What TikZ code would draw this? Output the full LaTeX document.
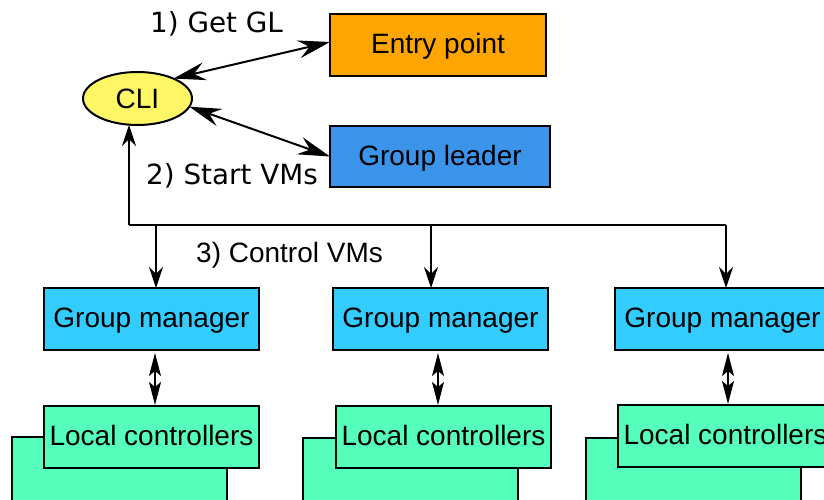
\documentclass[tikz,border=0pt]{standalone}
\usepackage{fontspec}
\setmainfont{Liberation Sans}
\newfontfamily\labelfont{DejaVu Sans}
\usetikzlibrary{arrows.meta,shapes.geometric}
\definecolor{epcol}{HTML}{FFA500}
\definecolor{glcol}{HTML}{3B94EA}
\definecolor{clicol}{HTML}{FFF666}
\definecolor{gmcol}{HTML}{33CCFF}
\definecolor{lccol}{HTML}{55FFBB}
\begin{document}
\begin{tikzpicture}[x=1pt,y=-1pt,
  box/.style={draw=black, line width=2pt, inner sep=0pt, outer sep=0pt,
    anchor=north west, text height=20pt, text depth=2.4pt,
    font=\fontsize{28}{30}\selectfont},
  gmbox/.style={box, fill=gmcol, minimum width=215pt, minimum height=62pt},
  lcbox/.style={box, fill=lccol, minimum width=215pt, minimum height=62pt},
  lcback/.style={box, fill=lccol, minimum width=215pt, minimum height=75pt},
  biglink/.style={line width=2pt,
    {Stealth[length=32pt,width=18pt,inset=11pt]}-{Stealth[length=32pt,width=18pt,inset=11pt]}},
  ctl/.style={line width=1.3pt},
  ctlarrow/.style={ctl, -{Stealth[length=21pt,width=14pt,inset=7pt]}},
  gmlink/.style={line width=1.3pt,
    {Stealth[length=23pt,width=12pt,inset=5pt]}-{Stealth[length=23pt,width=12pt,inset=5pt]}},
  steplabel/.style={anchor=base west, inner sep=0pt, font=\labelfont\fontsize{27.8}{30}\selectfont},
  ctllabel/.style={anchor=base west, inner sep=0pt, font=\fontsize{28}{30}\selectfont}
]
\useasboundingbox (0,0) rectangle (824,500);
\clip (0,0) rectangle (824,500);

% top row: entry point, group leader and the client
\node[box, fill=epcol, minimum width=216pt, minimum height=62pt] (ep) at (330,14) {Entry point};
\node[box, fill=glcol, minimum width=220pt, minimum height=61pt] (gl) at (330,126) {Group leader};
\node[ellipse, draw=black, line width=2pt, fill=clicol, inner sep=0pt, outer sep=0pt,
  minimum width=109pt, minimum height=53pt, font=\fontsize{28}{30}\selectfont] (cli) at (137.5,98.5) {CLI};

\draw[biglink] (cli.29) -- ([yshift=3pt]ep.west);
\draw[biglink] (cli.-9) -- (gl.west);

\node[steplabel] (l1) at (150,33) {1) Get GL};
\node[steplabel] (l2) at (146,184) {2) Start VMs};
\node[ctllabel] (l3) at (196,262) {3) Control VMs};

% group managers
\node[gmbox] (gm1) at (44,288) {Group manager};
\node[gmbox] (gm2) at (333,288) {Group manager};
\node[gmbox] (gm3) at (615,288) {Group manager};

% stacked local controllers
\node[lcback] (lb1) at (12,437) {};
\node[lcbox] (lc1) at (44,406) {Local controllers};
\node[lcback] (lb2) at (303,438) {};
\node[lcbox] (lc2) at (336,406) {Local controllers};
\node[lcback] (lb3) at (586,438) {};
\node[lcbox] (lc3) at (618,405) {Local controllers};

% control bus from the client to every group manager
\coordinate (bus) at (129,225);
\coordinate (busend) at (726,225);
\coordinate (d1) at (156,225);
\coordinate (d2) at (431,225);
\draw[ctlarrow] (bus) -- (bus |- cli.south);
\draw[ctl] (bus) -- (busend);
\draw[ctlarrow] (d1) -- (d1 |- gm1.north);
\draw[ctlarrow] (d2) -- (d2 |- gm2.north);
\draw[ctlarrow] (busend) -- (busend |- gm3.north);

% group manager <-> local controllers
\coordinate (v1) at (155,0);
\coordinate (v2) at (438,0);
\coordinate (v3) at (728,0);
\draw[gmlink] ([yshift=-3pt]gm1.south -| v1) -- ([yshift=1pt]lc1.north -| v1);
\draw[gmlink] ([yshift=-3pt]gm2.south -| v2) -- ([yshift=1pt]lc2.north -| v2);
\draw[gmlink] ([yshift=-3pt]gm3.south -| v3) -- ([yshift=1pt]lc3.north -| v3);
\end{tikzpicture}
\end{document}
